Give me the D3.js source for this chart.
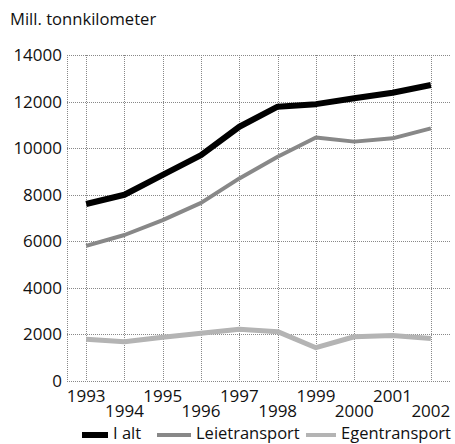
<!DOCTYPE html>
<html>
<head>
<meta charset="utf-8">
<script src="https://cdn.jsdelivr.net/npm/d3@7"></script>
<style>
  body { margin: 0; background: #fff; }
  text { font-family: "Open Sans", sans-serif; fill: #111; }
</style>
</head>
<body>
<svg id="chart" width="455" height="444"></svg>
<script>
var years = [1993, 1994, 1995, 1996, 1997, 1998, 1999, 2000, 2001, 2002];
var iAlt = [7600, 8000, 8850, 9700, 10920, 11780, 11890, 12140, 12380, 12710];
var leie = [5800, 6270, 6910, 7650, 8700, 9630, 10460, 10280, 10420, 10850];
var egen = [1790, 1690, 1880, 2050, 2220, 2120, 1430, 1900, 1950, 1830];
var yTicks = [0, 2000, 4000, 6000, 8000, 10000, 12000, 14000];

var svg = d3.select("#chart");
var plotLeft = 67, plotRight = 450, plotTop = 55, plotBottom = 381;

var x = d3.scaleLinear().domain([1992.5, 2002.5]).range([plotLeft, plotRight]);
var y = d3.scaleLinear().domain([0, 14000]).range([plotBottom, plotTop]);

svg.append("text")
    .attr("x", 10).attr("y", 25)
    .style("font-size", "16.6px")
    .text("Mill. tonnkilometer");

// grid
var grid = svg.append("g").attr("stroke", "#888").attr("stroke-width", 1)
    .attr("stroke-dasharray", "1,1");
grid.selectAll(".h").data(yTicks).enter().append("line")
    .attr("x1", plotLeft).attr("x2", plotRight)
    .attr("y1", function (d) { return Math.round(y(d)) + 0.5; })
    .attr("y2", function (d) { return Math.round(y(d)) + 0.5; });
grid.selectAll(".v").data(years).enter().append("line")
    .attr("y1", plotTop).attr("y2", plotBottom)
    .attr("x1", function (d) { return Math.round(x(d)) + 0.5; })
    .attr("x2", function (d) { return Math.round(x(d)) + 0.5; });
grid.append("line")
    .attr("x1", plotLeft + 0.5).attr("x2", plotLeft + 0.5)
    .attr("y1", plotTop).attr("y2", plotBottom);

// y labels
svg.selectAll(".ylab").data(yTicks).enter().append("text")
    .attr("x", 62)
    .attr("y", function (d) { return y(d) + 6; })
    .attr("text-anchor", "end")
    .style("font-size", "17px")
    .text(function (d) { return d; });

// x labels, staggered
svg.selectAll(".xlab").data(years).enter().append("text")
    .attr("x", function (d) { return x(d); })
    .attr("y", function (d, i) { return i % 2 === 0 ? 402 : 417; })
    .attr("text-anchor", "middle")
    .style("font-size", "17px")
    .text(function (d) { return d; });

var line = d3.line()
    .x(function (d, i) { return x(years[i]); })
    .y(function (d) { return y(d); });

var series = [
    { name: "Egentransport", values: egen, color: "#b4b4b4", width: 5 },
    { name: "Leietransport", values: leie, color: "#888", width: 4 },
    { name: "I alt", values: iAlt, color: "#000", width: 6 }
];

svg.selectAll(".series").data(series).enter().append("path")
    .attr("fill", "none")
    .attr("stroke", function (d) { return d.color; })
    .attr("stroke-width", function (d) { return d.width; })
    .attr("stroke-linejoin", "round")
    .attr("d", function (d) { return line(d.values); });

// legend
var legend = [
    { name: "I alt", color: "#000", width: 6, x: 82, w: 26 },
    { name: "Leietransport", color: "#888", width: 4, x: 157, w: 34 },
    { name: "Egentransport", color: "#b4b4b4", width: 4, x: 306, w: 30 }
];
var lg = svg.selectAll(".leg").data(legend).enter().append("g");
lg.append("line")
    .attr("x1", function (d) { return d.x; })
    .attr("x2", function (d) { return d.x + d.w; })
    .attr("y1", 435).attr("y2", 435)
    .attr("stroke", function (d) { return d.color; })
    .attr("stroke-width", function (d) { return d.width; });
lg.append("text")
    .attr("x", function (d) { return d.x + d.w + 5; })
    .attr("y", 439)
    .style("font-size", "16.5px")
    .text(function (d) { return d.name; });
</script>
</body>
</html>
